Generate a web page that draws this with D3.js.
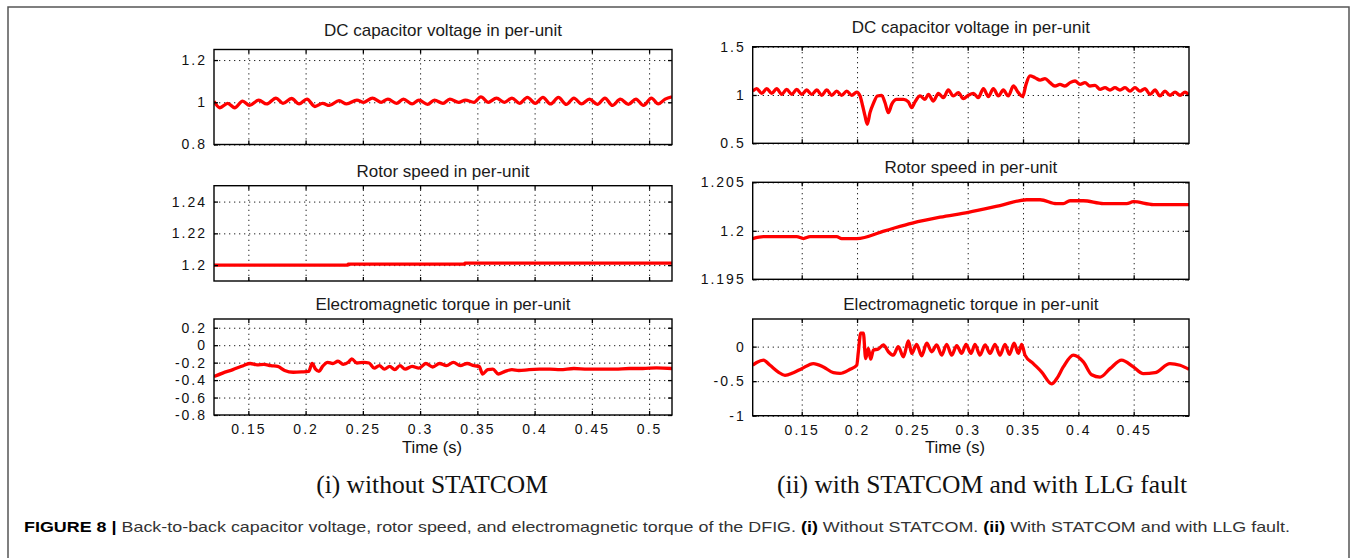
<!DOCTYPE html>
<html>
<head>
<meta charset="utf-8">
<script src="https://cdn.jsdelivr.net/npm/d3@7"></script>
<style>
  body { margin: 0; background: #fff; }
  svg { display: block; }
</style>
</head>
<body>
<div id="chart"></div>
<script>
// ---- data ----

// (i) without STATCOM : DC capacitor voltage
const leftDcTime = [0.1200,0.1251,0.1320,0.1380,0.1450,0.1510,0.1591,0.1660,0.1741,0.1802,0.1877,0.1943,0.2012,0.2081,0.2148,0.2208,0.2292,0.2358,0.2448,0.2508,0.2584,0.2659,0.2719,0.2794,0.2854,0.2930,0.2990,0.3065,0.3125,0.3200,0.3260,0.3336,0.3396,0.3471,0.3531,0.3597,0.3667,0.3736,0.3802,0.3868,0.3937,0.4006,0.4073,0.4139,0.4208,0.4277,0.4343,0.4410,0.4479,0.4548,0.4614,0.4680,0.4749,0.4819,0.4885,0.4951,0.5020,0.5080,0.5140,0.5200];
const leftDcVolt = [1.005,0.974,0.995,0.974,1.005,0.985,1.010,0.992,1.020,0.995,1.018,0.992,1.015,0.980,0.995,0.985,1.008,0.992,1.010,1.000,1.020,1.000,1.015,0.995,1.015,0.992,1.010,0.990,1.010,0.995,1.015,1.000,1.010,1.000,1.026,1.000,1.020,1.000,1.020,0.995,1.023,0.995,1.023,0.992,1.023,0.990,1.020,0.992,1.015,0.990,1.020,0.985,1.015,0.990,1.015,0.985,1.020,0.992,1.015,1.026];

// (i) rotor speed
const leftSpeedTime = [0.1200,0.2370,0.2371,0.3390,0.3391,0.5200];
const leftSpeedVal  = [1.2000,1.2000,1.2006,1.2006,1.2013,1.2013];

// (i) electromagnetic torque
const leftTqTime = [0.1200,0.1275,0.1365,0.1456,0.1516,0.1576,0.1636,0.1696,0.1756,0.1817,0.1892,0.1967,0.2027,0.2057,0.2087,0.2117,0.2148,0.2193,0.2238,0.2283,0.2328,0.2373,0.2403,0.2448,0.2508,0.2554,0.2599,0.2644,0.2689,0.2734,0.2779,0.2824,0.2869,0.2930,0.2990,0.3050,0.3110,0.3170,0.3230,0.3291,0.3351,0.3411,0.3471,0.3516,0.3546,0.3591,0.3636,0.3682,0.3742,0.3802,0.3862,0.3952,0.4043,0.4133,0.4223,0.4343,0.4464,0.4584,0.4704,0.4825,0.4945,0.5065,0.5200];
const leftTqVal  = [-0.36,-0.32,-0.28,-0.235,-0.21,-0.225,-0.22,-0.235,-0.243,-0.29,-0.31,-0.306,-0.30,-0.21,-0.275,-0.30,-0.243,-0.196,-0.21,-0.184,-0.22,-0.196,-0.157,-0.204,-0.196,-0.204,-0.263,-0.235,-0.275,-0.243,-0.28,-0.235,-0.275,-0.243,-0.263,-0.21,-0.25,-0.21,-0.235,-0.196,-0.235,-0.21,-0.235,-0.243,-0.33,-0.28,-0.275,-0.33,-0.30,-0.28,-0.29,-0.28,-0.275,-0.275,-0.28,-0.267,-0.275,-0.275,-0.275,-0.267,-0.267,-0.26,-0.267];

// (ii) with STATCOM and LLG fault : DC capacitor voltage
const rightDcTime = [0.1057,0.1093,0.1139,0.1184,0.1229,0.1274,0.1319,0.1364,0.1410,0.1455,0.1500,0.1545,0.1590,0.1636,0.1681,0.1726,0.1771,0.1816,0.1861,0.1907,0.1952,0.1997,0.2027,0.2051,0.2072,0.2093,0.2117,0.2148,0.2184,0.2223,0.2253,0.2283,0.2313,0.2358,0.2419,0.2464,0.2494,0.2524,0.2569,0.2614,0.2645,0.2690,0.2735,0.2780,0.2825,0.2870,0.2916,0.2961,0.3006,0.3051,0.3096,0.3142,0.3187,0.3232,0.3277,0.3322,0.3367,0.3413,0.3458,0.3497,0.3527,0.3563,0.3608,0.3654,0.3699,0.3744,0.3789,0.3834,0.3879,0.3925,0.3970,0.4015,0.4060,0.4105,0.4151,0.4196,0.4241,0.4286,0.4331,0.4376,0.4422,0.4467,0.4512,0.4557,0.4602,0.4648,0.4693,0.4738,0.4783,0.4828,0.4874,0.4919,0.4964,0.5000];
const rightDcVolt = [1.040,1.066,1.017,1.066,1.017,1.066,1.007,1.059,1.007,1.059,1.007,1.052,1.007,1.052,0.997,1.052,0.997,1.040,0.997,1.040,0.997,1.030,0.990,0.886,0.783,0.697,0.817,0.914,0.990,0.997,0.920,0.817,0.903,0.955,0.955,0.928,0.869,0.928,0.990,0.955,1.007,0.938,1.017,0.972,1.052,0.990,1.024,0.962,0.997,1.017,0.972,1.066,0.983,1.066,0.990,1.052,0.990,1.093,1.024,0.983,1.110,1.197,1.179,1.155,1.169,1.128,1.093,1.110,1.093,1.128,1.145,1.110,1.128,1.093,1.100,1.059,1.076,1.052,1.076,1.052,1.076,1.040,1.076,1.040,1.066,1.007,1.052,0.990,1.040,0.997,1.030,0.997,1.030,0.997];

// (ii) rotor speed
const rightSpeedTime = [0.1057,0.1154,0.1455,0.1515,0.1575,0.1816,0.1861,0.1997,0.2250,0.2500,0.2750,0.3006,0.3292,0.3533,0.3654,0.3804,0.3864,0.3925,0.4045,0.4226,0.4437,0.4497,0.4678,0.5000];
const rightSpeedVal  = [1.1992,1.1994,1.1994,1.1992,1.1994,1.1994,1.1992,1.1992,1.2000,1.2008,1.2014,1.2019,1.2026,1.2032,1.2032,1.2028,1.2028,1.2031,1.2031,1.2028,1.2028,1.2030,1.2027,1.2027];

// (ii) electromagnetic torque
const rightTqTime = [0.1057,0.1093,0.1154,0.1214,0.1289,0.1349,0.1425,0.1500,0.1605,0.1696,0.1786,0.1846,0.1937,0.1997,0.2012,0.2033,0.2057,0.2078,0.2102,0.2123,0.2148,0.2193,0.2238,0.2283,0.2328,0.2373,0.2419,0.2464,0.2494,0.2539,0.2584,0.2630,0.2675,0.2720,0.2765,0.2810,0.2855,0.2901,0.2946,0.2985,0.3030,0.3066,0.3111,0.3157,0.3202,0.3247,0.3292,0.3337,0.3377,0.3419,0.3458,0.3488,0.3518,0.3593,0.3669,0.3759,0.3804,0.3864,0.3955,0.4045,0.4120,0.4196,0.4286,0.4391,0.4497,0.4587,0.4693,0.4828,0.4919,0.5000];
const rightTqVal  = [-0.27,-0.23,-0.196,-0.27,-0.368,-0.417,-0.377,-0.319,-0.245,-0.294,-0.377,-0.387,-0.328,-0.27,-0.074,0.196,0.196,-0.172,-0.025,-0.181,-0.049,-0.034,0.025,-0.074,-0.123,0,-0.147,0.083,-0.098,0.034,-0.132,0.049,-0.074,0.025,-0.123,0.034,-0.123,0.015,-0.098,0.034,-0.098,0.034,-0.123,0.025,-0.098,0.034,-0.123,0.034,-0.113,0.049,-0.098,0.034,-0.123,-0.245,-0.368,-0.539,-0.466,-0.294,-0.123,-0.221,-0.407,-0.441,-0.319,-0.196,-0.294,-0.392,-0.377,-0.245,-0.27,-0.328];

// tick values
const xTicksLeft  = [0.15,0.2,0.25,0.3,0.35,0.4,0.45,0.5];
const xTicksRight = [0.15,0.2,0.25,0.3,0.35,0.4,0.45];
const yTicksLeftDc    = [0.8,1,1.2];
const yTicksLeftSpeed = [1.2,1.22,1.24];
const yTicksLeftTq    = [-0.8,-0.6,-0.4,-0.2,0,0.2];
const yTicksRightDc    = [0.5,1,1.5];
const yTicksRightSpeed = [1.195,1.2,1.205];
const yTicksRightTq    = [-1,-0.5,0];

const panelTitles = ["DC capacitor voltage in per-unit", "Rotor speed in per-unit", "Electromagnetic torque in per-unit"];
const caseLabels = ["(i) without STATCOM", "(ii) with STATCOM and with LLG fault"];

// ---- drawing ----
const width = 1356, height = 558;
const svg = d3.select('#chart').append('svg')
    .attr('width', width)
    .attr('height', height)
    .attr('viewBox', `0 0 ${width} ${height}`);

// cadre de la figure
svg.append('rect')
    .attr('x', 8).attr('y', 7)
    .attr('width', 1341).attr('height', 600)
    .attr('fill', 'none')
    .attr('stroke', '#555')
    .attr('stroke-width', 1.5);

const panels = [
  { x0: 214, x1: 672, y0: 49.5, y1: 144.5, xd: [0.12, 0.52], yd: [0.8, 1.25], xt: xTicksLeft, yt: yTicksLeftDc, t: leftDcTime, v: leftDcVolt, title: panelTitles[0], ty: 35.5 },
  { x0: 214, x1: 672, y0: 185.7, y1: 281, xd: [0.12, 0.52], yd: [1.19, 1.25], xt: xTicksLeft, yt: yTicksLeftSpeed, t: leftSpeedTime, v: leftSpeedVal, title: panelTitles[1], ty: 177 },
  { x0: 214, x1: 672, y0: 319, y1: 415, xd: [0.12, 0.52], yd: [-0.8, 0.3], xt: xTicksLeft, yt: yTicksLeftTq, t: leftTqTime, v: leftTqVal, title: panelTitles[2], ty: 310, timeX: 432 },
  { x0: 752.7, x1: 1189, y0: 46.7, y1: 143.3, xd: [0.1057, 0.5], yd: [0.5, 1.5], xt: xTicksRight, yt: yTicksRightDc, t: rightDcTime, v: rightDcVolt, title: panelTitles[0], ty: 32.5 },
  { x0: 752.7, x1: 1189, y0: 182.3, y1: 279.3, xd: [0.1057, 0.5], yd: [1.195, 1.205], xt: xTicksRight, yt: yTicksRightSpeed, t: rightSpeedTime, v: rightSpeedVal, title: panelTitles[1], ty: 172.5 },
  { x0: 752.7, x1: 1189, y0: 319, y1: 415.7, xd: [0.1057, 0.5], yd: [-1, 0.4], xt: xTicksRight, yt: yTicksRightTq, t: rightTqTime, v: rightTqVal, title: panelTitles[2], ty: 310, timeX: 955 }
];

panels.forEach((p, i) => drawPanel(p, i));

function drawPanel(p, i) {
  const x = d3.scaleLinear().domain(p.xd).range([p.x0, p.x1]);
  const y = d3.scaleLinear().domain(p.yd).range([p.y1, p.y0]);
  const h = p.y1 - p.y0, w = p.x1 - p.x0;
  const g = svg.append('g');
  const fmt = d => String(d); // hyphen, not unicode minus

  // grille pointillée
  g.append('g')
      .attr('transform', `translate(0,${p.y1})`)
      .call(d3.axisBottom(x).tickValues(p.xt).tickSize(-h).tickFormat(''))
      .call(a => a.select('.domain').remove())
      .call(a => a.selectAll('line').attr('stroke', '#222').attr('stroke-dasharray', '1.3,3.7'));
  g.append('g')
      .attr('transform', `translate(${p.x0},0)`)
      .call(d3.axisLeft(y).tickValues(p.yt).tickSize(-w).tickFormat(''))
      .call(a => a.select('.domain').remove())
      .call(a => a.selectAll('line').attr('stroke', '#222').attr('stroke-dasharray', '1.3,3.7'));

  // courbe
  const clipId = 'clip' + i;
  g.append('clipPath').attr('id', clipId)
    .append('rect').attr('x', p.x0).attr('y', p.y0).attr('width', w).attr('height', h);
  const line = d3.line().curve(d3.curveMonotoneX).x(d => x(d[0])).y(d => y(d[1]));
  g.append('path')
      .datum(d3.zip(p.t, p.v))
      .attr('clip-path', `url(#${clipId})`)
      .attr('fill', 'none')
      .attr('stroke', '#ff0000')
      .attr('stroke-width', 3.3)
      .attr('stroke-linejoin', 'round')
      .attr('d', line);

  // petits ticks intérieurs sur les 4 côtés
  const tickStyle = a => {
    a.select('.domain').remove();
    a.selectAll('line').attr('stroke', '#000').attr('stroke-width', 1.3);
  };
  g.append('g').attr('transform', `translate(0,${p.y1})`)
      .call(d3.axisBottom(x).tickValues(p.xt).tickSize(-4).tickFormat('')).call(tickStyle);
  g.append('g').attr('transform', `translate(0,${p.y0})`)
      .call(d3.axisTop(x).tickValues(p.xt).tickSize(-4).tickFormat('')).call(tickStyle);
  g.append('g').attr('transform', `translate(${p.x0},0)`)
      .call(d3.axisLeft(y).tickValues(p.yt).tickSize(-4).tickFormat('')).call(tickStyle);
  g.append('g').attr('transform', `translate(${p.x1},0)`)
      .call(d3.axisRight(y).tickValues(p.yt).tickSize(-4).tickFormat('')).call(tickStyle);

  // cadre du graphique
  g.append('rect')
      .attr('x', p.x0).attr('y', p.y0).attr('width', w).attr('height', h)
      .attr('fill', 'none').attr('stroke', '#000').attr('stroke-width', 1.4);

  // labels axe y
  g.append('g').attr('transform', `translate(${p.x0},0)`)
      .call(d3.axisLeft(y).tickValues(p.yt).tickSize(0).tickPadding(7).tickFormat(fmt))
      .call(a => a.select('.domain').remove())
      .call(a => a.selectAll('text')
          .attr('font-family', 'Liberation Sans, Arial, sans-serif')
          .attr('font-size', 14)
          .attr('letter-spacing', 2)
          .attr('fill', '#111'));

  // labels axe x (seulement en bas)
  if (p.timeX) {
    g.append('g').attr('transform', `translate(0,${p.y1})`)
        .call(d3.axisBottom(x).tickValues(p.xt).tickSize(0).tickPadding(9).tickFormat(fmt))
        .call(a => a.select('.domain').remove())
        .call(a => a.selectAll('text')
            .attr('font-family', 'Liberation Sans, Arial, sans-serif')
            .attr('font-size', 14)
            .attr('letter-spacing', 2)
            .attr('fill', '#111'));
    svg.append('text')
        .attr('x', p.timeX)
        .attr('y', 453)
        .attr('text-anchor', 'middle')
        .attr('font-family', 'Liberation Sans, Arial, sans-serif')
        .attr('font-size', 16.5)
        .attr('fill', '#111')
        .text('Time (s)');
  }

  // titre
  svg.append('text')
      .attr('x', (p.x0 + p.x1) / 2)
      .attr('y', p.ty)
      .attr('text-anchor', 'middle')
      .attr('font-family', 'Liberation Sans, Arial, sans-serif')
      .attr('font-size', 17)
      .attr('fill', '#1a1a1a')
      .text(p.title);
}

// sous-titres des deux colonnes
[[432, caseLabels[0]], [982, caseLabels[1]]].forEach(([cx, label]) => {
  svg.append('text')
      .attr('x', cx).attr('y', 493)
      .attr('text-anchor', 'middle')
      .attr('font-family', 'Liberation Serif, Times New Roman, serif')
      .attr('font-size', 25.5)
      .attr('fill', '#111')
      .text(label);
});

// légende de la figure
const caption = svg.append('text')
    .attr('x', 24).attr('y', 532)
    .attr('font-family', 'Liberation Sans, Arial, sans-serif')
    .attr('font-size', 15)
    .attr('fill', '#333')
    .attr('textLength', 1266)
    .attr('lengthAdjust', 'spacingAndGlyphs');
caption.append('tspan').attr('font-weight', 'bold').attr('fill', '#000').text('FIGURE 8 | ');
caption.append('tspan').text('Back-to-back capacitor voltage, rotor speed, and electromagnetic torque of the DFIG. ');
caption.append('tspan').attr('font-weight', 'bold').attr('fill', '#000').text('(i)');
caption.append('tspan').text(' Without STATCOM. ');
caption.append('tspan').attr('font-weight', 'bold').attr('fill', '#000').text('(ii)');
caption.append('tspan').text(' With STATCOM and with LLG fault.');
</script>
</body>
</html>
